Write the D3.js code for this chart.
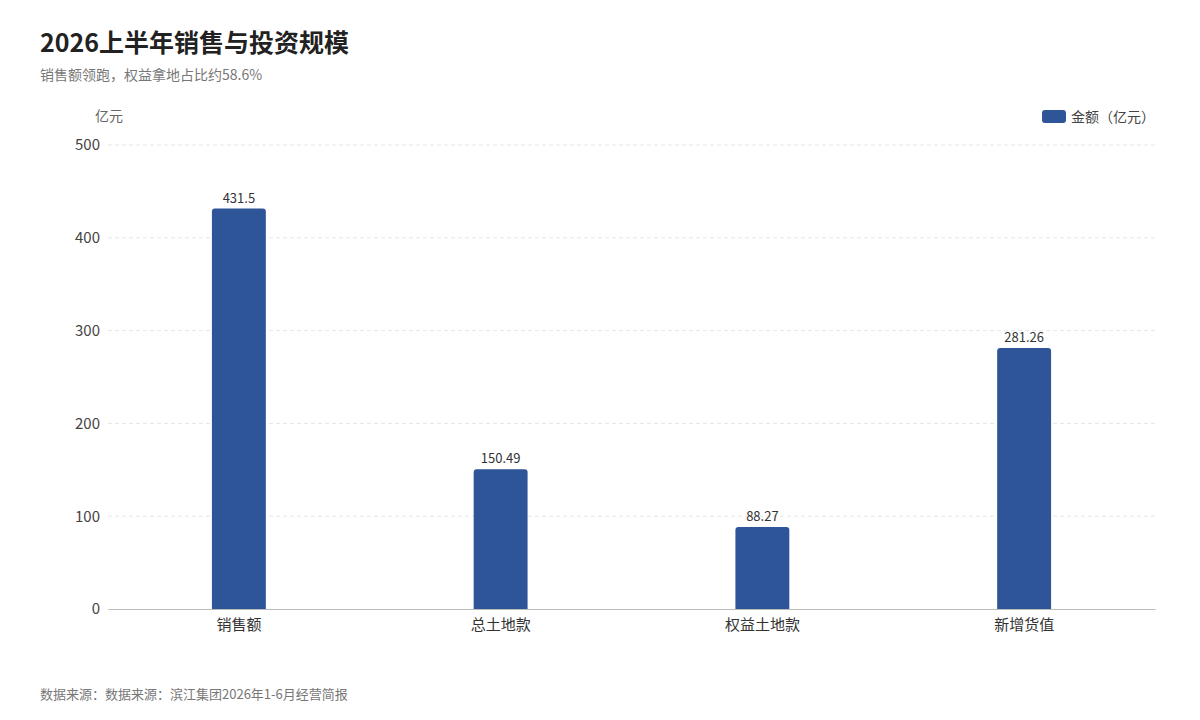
<!DOCTYPE html>
<html>
<head>
<meta charset="utf-8">
<title>2026上半年销售与投资规模</title>
<style>
  body { margin: 0; background: #fff; }
  text { font-family: "Noto Sans CJK SC", "Noto Sans", sans-serif; }
</style>
</head>
<body>
<script src="https://d3js.org/d3.v7.min.js"></script>
<script>
// chart data
const categories = ['销售额', '总土地款', '权益土地款', '新增货值'];
const amounts = [431.5, 150.49, 88.27, 281.26];
const valueLabels = ['431.5', '150.49', '88.27', '281.26'];
const yTicks = [0, 100, 200, 300, 400, 500];
const seriesName = '金额（亿元）';

const width = 1200, height = 720;
const margin = { top: 145, right: 45, bottom: 111, left: 108 };

const svg = d3.select('body').append('svg')
    .attr('width', width)
    .attr('height', height);

const x = d3.scaleBand()
    .domain(categories)
    .range([margin.left, width - margin.right])
    .paddingInner(0.794)
    .paddingOuter(0.397);

const y = d3.scaleLinear()
    .domain([0, 500])
    .range([height - margin.bottom, margin.top]);

// title
svg.append('text')
    .attr('x', 40).attr('y', 52)
    .attr('font-size', 25).attr('font-weight', 700)
    .attr('fill', '#222')
    .text('2026上半年销售与投资规模');

svg.append('text')
    .attr('x', 40).attr('y', 80)
    .attr('font-size', 14)
    .attr('fill', '#777')
    .text('销售额领跑，权益拿地占比约58.6%');

// unit label
svg.append('text')
    .attr('x', 95).attr('y', 121)
    .attr('font-size', 14)
    .attr('fill', '#666')
    .text('亿元');

// gridlines
svg.append('g')
    .selectAll('line')
    .data(yTicks.filter(d => d > 0))
    .join('line')
    .attr('x1', margin.left)
    .attr('x2', width - margin.right)
    .attr('y1', d => y(d))
    .attr('y2', d => y(d))
    .attr('stroke', '#e6e6e6')
    .attr('stroke-dasharray', '4,3');

// y axis
const yAxis = svg.append('g')
    .attr('transform', `translate(${margin.left},0)`)
    .call(d3.axisLeft(y).tickValues(yTicks).tickSize(0).tickPadding(8));
yAxis.select('.domain').remove();
yAxis.selectAll('text')
    .attr('font-size', 15)
    .attr('fill', '#444')
    .style('font-family', '"Noto Sans CJK SC", sans-serif');

// bars with rounded tops
const r = 3;
function barPath(d, i) {
    const x0 = x(categories[i]);
    const w = x.bandwidth();
    const yt = y(d);
    const yb = y(0);
    return `M${x0},${yb}V${yt + r}Q${x0},${yt} ${x0 + r},${yt}H${x0 + w - r}Q${x0 + w},${yt} ${x0 + w},${yt + r}V${yb}Z`;
}

svg.append('g')
    .selectAll('path')
    .data(amounts)
    .join('path')
    .attr('d', barPath)
    .attr('fill', '#2e5597');

// value labels
svg.append('g')
    .selectAll('text')
    .data(amounts)
    .join('text')
    .attr('x', (d, i) => x(categories[i]) + x.bandwidth() / 2)
    .attr('y', d => y(d) - 6)
    .attr('text-anchor', 'middle')
    .attr('font-size', 13)
    .attr('fill', '#333')
    .text((d, i) => valueLabels[i]);

// x axis
const xAxis = svg.append('g')
    .attr('transform', `translate(0,${y(0)})`)
    .call(d3.axisBottom(x).tickSize(0).tickPadding(10));
xAxis.select('.domain').attr('stroke', '#bbb');
xAxis.selectAll('text')
    .attr('font-size', 15)
    .attr('fill', '#333')
    .style('font-family', '"Noto Sans CJK SC", sans-serif');

// legend
const legend = svg.append('g').attr('transform', 'translate(1042,110)');
legend.append('rect')
    .attr('width', 24).attr('height', 13)
    .attr('rx', 3)
    .attr('fill', '#2e5597');
legend.append('text')
    .attr('x', 29).attr('y', 11.5)
    .attr('font-size', 14)
    .attr('fill', '#444')
    .text(seriesName);

// footer
svg.append('text')
    .attr('x', 40).attr('y', 699)
    .attr('font-size', 13)
    .attr('fill', '#777')
    .text('数据来源：数据来源：滨江集团2026年1-6月经营简报');
</script>
</body>
</html>
